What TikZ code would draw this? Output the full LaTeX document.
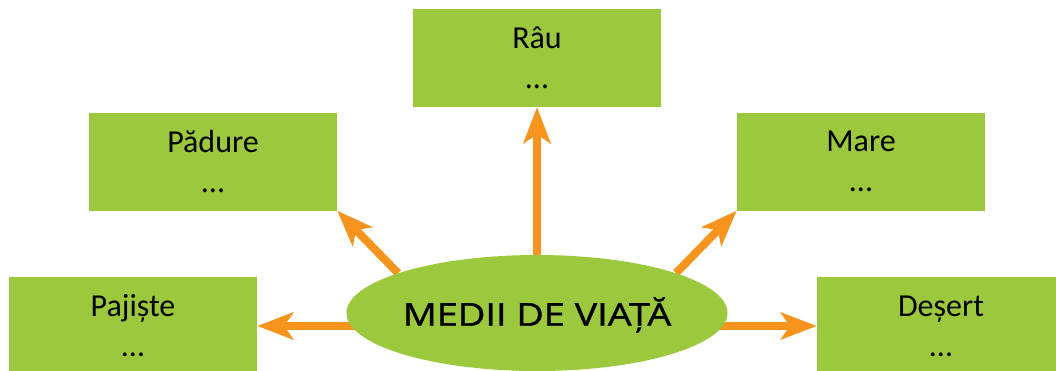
\documentclass[tikz,border=0pt]{standalone}
\usepackage{fontspec}
\setmainfont{Carlito}
\newfontfamily\titlefont[FakeStretch=1.2,FakeBold=1.2]{Open Sans}
\usetikzlibrary{arrows.meta,shapes.geometric,backgrounds}
\definecolor{boxgreen}{HTML}{9BC83C}
\definecolor{arrorange}{HTML}{F7941D}
\begin{document}
\begin{tikzpicture}[x=1pt,y=-1pt,
  envbox/.style={fill=boxgreen, draw=none, minimum width=248pt, minimum height=98pt,
    inner sep=0pt, align=center, font=\fontsize{32}{40}\selectfont},
  hub/.style={ellipse, fill=boxgreen, draw=none, minimum width=381pt, minimum height=116pt,
    inner sep=0pt, font=\titlefont\fontsize{31.5}{36}\selectfont},
  arr/.style={draw=arrorange, line width=8pt,
    -{Stealth[length=36pt,width=27pt,inset=9pt]}}]
\useasboundingbox (0,0) rectangle (1056,370);
\clip (0,0) rectangle (1056,370);
\node[envbox] (rau)  at (537,58)    {Râu\\...};
\node[envbox] (pad)  at (213,161.5) {Pădure\\...};
\node[envbox] (mare) at (861,161.5) {Mare\\...};
\node[envbox] (paj)  at (133,326)   {Pajiște\\...};
\node[envbox] (des)  at (941,326)   {Deșert\\...};
\node[hub] (c) at (537,313) {};
\node[font=\titlefont\fontsize{31.5}{36}\selectfont, inner sep=0pt] (ct) at (537,315) {MEDII DE VIAȚĂ};
\begin{scope}[on background layer]
\draw[arr] (c.center) -- (rau.south);
\draw[arr] (c.164) -- (pad.south east);
\draw[arr] (c.16) -- (mare.south west);
\draw[arr] (c.center |- paj.east) -- (paj.east);
\draw[arr] (c.center |- des.west) -- (des.west);
\end{scope}
\end{tikzpicture}
\end{document}
